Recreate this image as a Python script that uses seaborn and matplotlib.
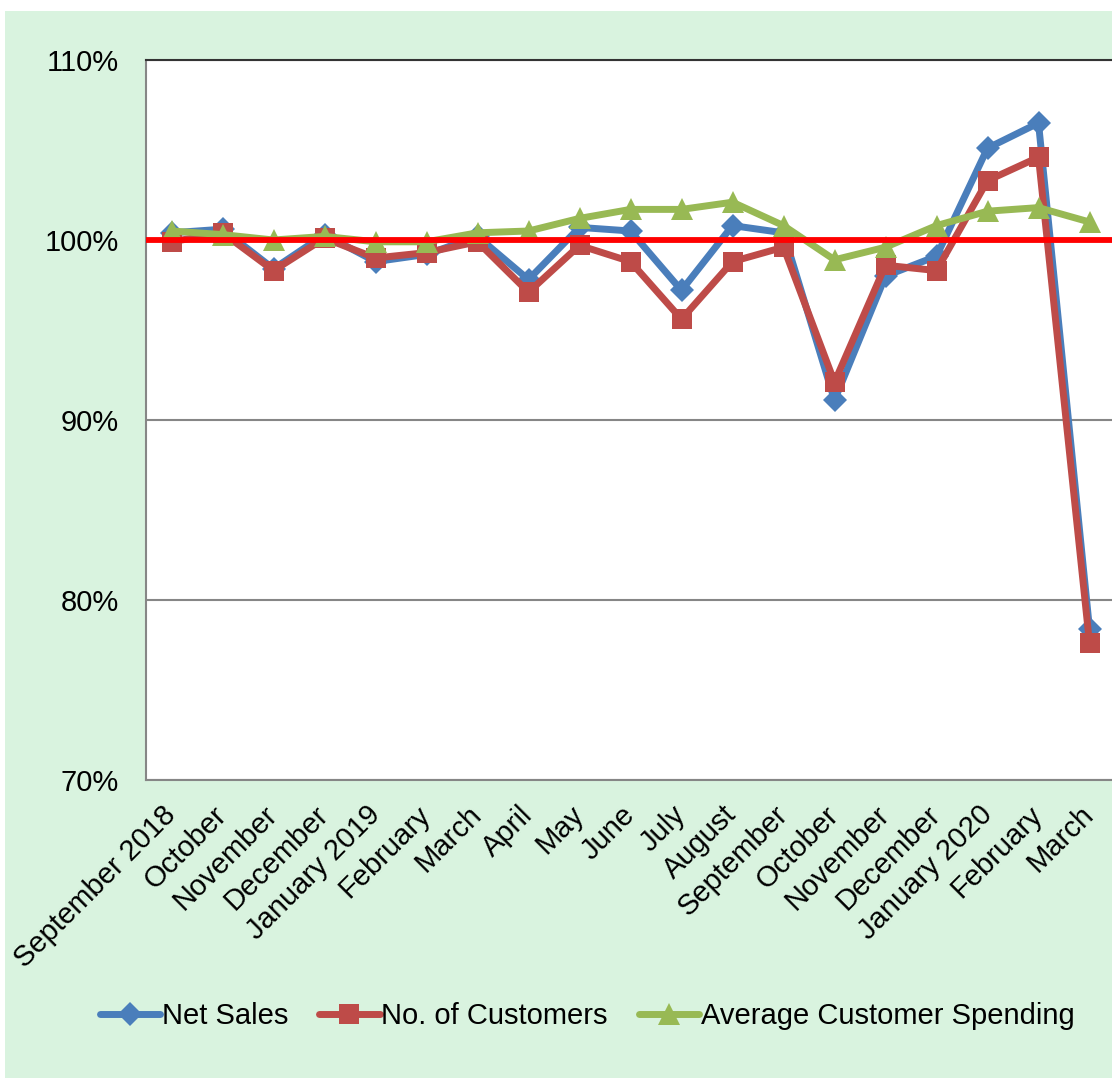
import matplotlib
matplotlib.use("Agg")
import matplotlib.pyplot as plt
from matplotlib.patches import Rectangle
from matplotlib.lines import Line2D
from matplotlib.ticker import FuncFormatter
import seaborn as sns
import pandas as pd

months = ["September 2018", "October", "November", "December", "January 2019",
          "February", "March", "April", "May", "June", "July", "August",
          "September", "October", "November", "December", "January 2020",
          "February", "March"]

net_sales = [100.4, 100.6, 98.4, 100.3, 98.8, 99.2, 100.2, 97.8, 100.7, 100.5,
             97.2, 100.8, 100.4, 91.1, 98.0, 99.1, 105.1, 106.5, 78.4]
customers = [99.9, 100.4, 98.3, 100.1, 99.0, 99.3, 99.9, 97.1, 99.7, 98.8,
             95.6, 98.8, 99.6, 92.1, 98.6, 98.3, 103.3, 104.6, 77.6]
avg_spending = [100.5, 100.3, 100.0, 100.2, 99.9, 99.9, 100.4, 100.5, 101.2, 101.7,
                101.7, 102.1, 100.8, 98.9, 99.6, 100.8, 101.6, 101.8, 101.0]

series_names = ["Net Sales", "No. of Customers", "Average Customer Spending"]
series_values = [net_sales, customers, avg_spending]
colors = ["#4a7ebb", "#be4b48", "#98b954"]
markers = ["D", "s", "^"]
marker_sizes = [12, 14.5, 15.5]

rows = []
for name, vals in zip(series_names, series_values):
    for i, v in enumerate(vals):
        rows.append({"idx": i, "value": v, "series": name})
df = pd.DataFrame(rows)

sns.set_theme(style="white")
plt.rcParams["font.family"] = ["Liberation Sans", "DejaVu Sans"]
plt.rcParams["text.color"] = "black"
plt.rcParams["xtick.color"] = "black"
plt.rcParams["ytick.color"] = "black"

fig = plt.figure(figsize=(11.12, 10.8), dpi=100)
fig.patch.set_facecolor("white")
fig.patches.append(Rectangle((5 / 1112, 0.002), 1.0, 1 - 11 / 1080 - 0.002,
                             transform=fig.transFigure, facecolor="#d9f3df",
                             edgecolor="none", zorder=-10))

ax = fig.add_axes([146 / 1112, 1 - 780 / 1080, 969 / 1112, 720 / 1080])
ax.set_zorder(1)
ax.set_facecolor("white")

for k, (name, col, mk, ms) in enumerate(zip(series_names, colors, markers, marker_sizes)):
    sub = df[df["series"] == name]
    sns.lineplot(data=sub, x="idx", y="value", ax=ax, color=col, lw=5,
                 marker=mk, markersize=ms, markeredgewidth=0, zorder=3 + k,
                 legend=False)

ax.axhline(100, color="#ff0000", lw=4.2, zorder=10)

ax.set_xlim(-0.5, len(months) - 0.5)
ax.set_ylim(70, 110)
ax.set_yticks([70, 80, 90, 100, 110])
ax.yaxis.set_major_formatter(FuncFormatter(lambda v, p: f"{v:.0f}%"))
ax.yaxis.grid(True, color="#868686", lw=1.5)
ax.set_axisbelow(True)
ax.set_xticks(range(len(months)))
ax.set_xticklabels(months, rotation=45, ha="right", va="center",
                   rotation_mode="anchor")
ax.tick_params(axis="x", length=0, pad=22, labelsize=21, labelcolor="black")
ax.tick_params(axis="y", length=0, pad=19.5, labelsize=21, labelcolor="black")
ax.set_xlabel("")
ax.set_ylabel("")
ax.spines["right"].set_visible(False)
ax.spines["top"].set_color("#333333")
ax.spines["top"].set_linewidth(1.5)
for s in ["left", "bottom"]:
    ax.spines[s].set_color("#868686")
    ax.spines[s].set_linewidth(1.5)

handles = [Line2D([0], [0], color=c, lw=5, marker=m, markersize=ms,
                  markeredgewidth=0)
           for c, m, ms in zip(colors, markers, marker_sizes)]
fig.legend(handles, series_names, loc="center", bbox_to_anchor=(0.528, 1 - 1016 / 1080),
           ncol=3, frameon=False, fontsize=21, handlelength=2.07, handletextpad=0.05,
           columnspacing=1.07, labelcolor="black")

fig.savefig("out.png", dpi=100, facecolor=fig.get_facecolor())
